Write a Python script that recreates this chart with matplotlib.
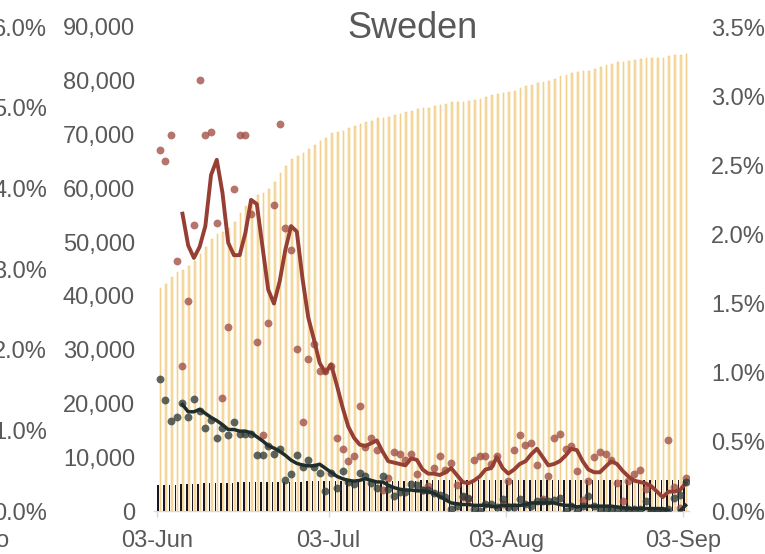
import numpy as np
import pandas as pd
import matplotlib
matplotlib.use("Agg")
import matplotlib.pyplot as plt
import matplotlib.dates as mdates
from matplotlib.ticker import FuncFormatter, FixedLocator

plt.rcParams['font.family'] = ['Liberation Sans', 'DejaVu Sans']

# ---------------- data ----------------
dates = pd.date_range('2020-06-03', '2020-09-03', freq='D')
title = 'Sweden'
tick_dates = pd.to_datetime(['2020-06-03', '2020-07-03', '2020-08-03', '2020-09-03'])

# cumulative cases (thousands) - yellow bars, middle axis
cases_cum_k = [41.4, 42.3, 43.6, 44.4, 44.8, 45.6, 46.5, 47.8, 49.1, 50.6,
               51.6, 51.9, 52.7, 53.8, 55.4, 56.8, 57.5, 58.8, 59.1, 59.8,
               61.2, 62.9, 64.1, 65.4, 66.0, 66.5, 67.3, 68.1, 68.8, 69.4,
               70.2, 70.5, 70.7, 71.2, 71.5, 72.0, 72.3, 72.6, 73.0, 73.1,
               73.3, 73.6, 73.8, 74.2, 74.4, 74.7, 74.9, 75.0, 75.3, 75.5,
               75.7, 76.0, 76.1, 76.1, 76.2, 76.5, 76.7, 77.0, 77.3, 77.6,
               77.7, 77.9, 78.1, 78.6, 79.0, 79.3, 79.6, 79.7, 79.9, 80.3,
               80.8, 81.1, 81.5, 81.7, 81.8, 81.9, 82.2, 82.6, 82.9, 83.2,
               83.4, 83.4, 83.6, 83.9, 84.0, 84.2, 84.2, 84.2, 84.2, 84.7,
               84.8, 84.8, 84.9]

# cumulative deaths (thousands) - black bars, middle axis
deaths_cum_k = [4.80, 4.84, 4.88, 4.92, 4.96, 5.00, 5.04, 5.08, 5.12, 5.15,
                5.18, 5.21, 5.24, 5.27, 5.30, 5.32, 5.34, 5.36, 5.38, 5.40,
                5.42, 5.44, 5.45, 5.46, 5.47, 5.48, 5.49, 5.50, 5.51, 5.52,
                5.53, 5.54, 5.55, 5.56, 5.57, 5.58, 5.59, 5.60, 5.61, 5.62,
                5.63, 5.64, 5.65, 5.66, 5.67, 5.67, 5.68, 5.69, 5.70, 5.70,
                5.71, 5.71, 5.72, 5.72, 5.73, 5.73, 5.73, 5.74, 5.74, 5.74,
                5.75, 5.75, 5.75, 5.76, 5.76, 5.76, 5.77, 5.77, 5.77, 5.78,
                5.78, 5.78, 5.79, 5.79, 5.79, 5.80, 5.80, 5.80, 5.80, 5.81,
                5.81, 5.81, 5.81, 5.82, 5.82, 5.82, 5.82, 5.82, 5.83, 5.83,
                5.83, 5.83, 5.84]

# daily case growth (%) - red dots, right axis
case_growth = [2.61, 2.53, 2.72, 1.81, 1.05, 1.52, 2.07, 3.12, 2.72, 2.74,
               2.08, 0.82, 1.33, 2.33, 2.72, 2.72, 2.15, 1.22, 0.55, 1.36,
               2.21, 2.80, 2.05, 1.89, 1.17, 0.64, 1.10, 1.21, 1.01, 1.01,
               1.05, 0.53, 0.45, 0.36, 0.40, 0.76, 0.46, 0.53, 0.44, 0.15,
               0.24, 0.43, 0.41, 0.37, 0.41, 0.27, 0.15, 0.18, 0.31, 0.40,
               0.30, 0.35, 0.19, 0.10, 0.09, 0.37, 0.40, 0.40, 0.34, 0.40,
               0.05, 0.22, 0.44, 0.55, 0.48, 0.49, 0.33, 0.09, 0.25, 0.53,
               0.56, 0.45, 0.47, 0.29, 0.08, 0.22, 0.39, 0.43, 0.41, 0.37,
               0.20, 0.07, 0.22, 0.27, 0.30, 0.16, 0.00, 0.00, 0.00, 0.51,
               0.17, 0.02, 0.24]

# 7-day average case growth (%) - red line, right axis
case_growth_avg = [np.nan, np.nan, np.nan, np.nan, 2.15, 1.92, 1.83, 1.91, 2.06, 2.43,
                   2.54, 2.30, 1.94, 1.85, 1.85, 2.01, 2.25, 2.22, 1.91, 1.60,
                   1.50, 1.66, 1.89, 2.06, 2.02, 1.68, 1.40, 1.24, 1.07, 1.00,
                   1.06, 0.91, 0.75, 0.61, 0.53, 0.48, 0.47, 0.49, 0.51, 0.43,
                   0.36, 0.35, 0.34, 0.33, 0.38, 0.37, 0.30, 0.27, 0.27, 0.26,
                   0.28, 0.31, 0.26, 0.21, 0.20, 0.22, 0.25, 0.30, 0.31, 0.39,
                   0.31, 0.27, 0.30, 0.34, 0.36, 0.41, 0.45, 0.39, 0.33, 0.34,
                   0.36, 0.40, 0.45, 0.44, 0.36, 0.30, 0.28, 0.28, 0.32, 0.36,
                   0.34, 0.29, 0.25, 0.22, 0.21, 0.20, 0.18, 0.14, 0.10, 0.14,
                   0.14, 0.15, 0.20]

# daily death growth (%) - dark dots, left axis
death_growth = [1.64, 1.37, 1.11, 1.17, 1.34, 1.16, 1.39, 1.24, 1.03, 1.13,
                0.91, 1.03, 0.94, 1.10, 0.95, 0.95, 0.95, 0.69, 0.69, 0.81,
                0.71, 0.77, 0.38, 0.46, 0.70, 0.55, 0.63, 0.54, 0.47, 0.25,
                0.47, 0.28, 0.50, 0.36, 0.34, 0.47, 0.44, 0.35, 0.28, 0.43,
                0.27, 0.19, 0.24, 0.24, 0.34, 0.32, 0.26, 0.26, 0.22, 0.20,
                0.17, 0.03, 0.06, 0.19, 0.16, 0.03, 0.00, 0.09, 0.09, 0.05,
                0.15, 0.05, 0.05, 0.15, 0.09, 0.06, 0.13, 0.13, 0.13, 0.14,
                0.16, 0.00, 0.06, 0.00, 0.06, 0.19, 0.06, 0.02, 0.02, 0.02,
                0.02, 0.02, 0.02, 0.02, 0.02, 0.13, 0.00, 0.00, 0.00, 0.02,
                0.16, 0.20, 0.36]

# 7-day average death growth (%) - dark line, left axis
death_growth_avg = [np.nan, np.nan, np.nan, np.nan, 1.32, 1.23, 1.23, 1.26, 1.21, 1.16,
                    1.12, 1.07, 1.01, 1.01, 0.99, 0.99, 0.97, 0.92, 0.87, 0.81,
                    0.78, 0.74, 0.69, 0.63, 0.59, 0.57, 0.56, 0.56, 0.58, 0.53,
                    0.48, 0.43, 0.40, 0.38, 0.37, 0.38, 0.40, 0.38, 0.36, 0.36,
                    0.32, 0.29, 0.27, 0.26, 0.26, 0.25, 0.25, 0.24, 0.22, 0.18,
                    0.14, 0.10, 0.09, 0.08, 0.08, 0.07, 0.07, 0.07, 0.06, 0.05,
                    0.07, 0.07, 0.07, 0.07, 0.08, 0.10, 0.10, 0.10, 0.10, 0.10,
                    0.08, 0.07, 0.07, 0.05, 0.06, 0.06, 0.06, 0.06, 0.06, 0.06,
                    0.05, 0.04, 0.03, 0.03, 0.03, 0.03, 0.03, 0.03, 0.03, 0.01,
                    np.nan, 0.00, 0.07]

# ---------------- figure ----------------
TXT = '#595959'
FS = 17
fig = plt.figure(figsize=(7.65, 5.54), dpi=100)
W, H = 765, 554
x_left, x_right = 153.6, 688.7
y_bot, y_top = 511, 27
rect = [x_left / W, (H - y_bot) / H, (x_right - x_left) / W, (y_bot - y_top) / H]

ax = fig.add_axes(rect)
xd = mdates.date2num(dates)
ax.bar(xd + 0.6, np.array(cases_cum_k) * 1000, width=0.3, color='#F6DFAE',
       edgecolor='#EFC266', linewidth=0.35, zorder=2)
ax.bar(xd + 0.2, np.array(deaths_cum_k) * 1000, width=0.26, color='#1B1524',
       linewidth=0, zorder=3)
ax.set_ylim(0, 90000)
ax.set_xlim(xd[0] - 0.6, xd[-1] + 1.0)
ax.yaxis.set_major_locator(FixedLocator(np.arange(0, 90001, 10000)))
ax.yaxis.set_major_formatter(FuncFormatter(lambda v, p: f'{v:,.0f}'))
ax.tick_params(axis='y', length=0, pad=13.4, labelsize=FS, labelcolor=TXT)
ax.xaxis.set_major_locator(FixedLocator(mdates.date2num(tick_dates)))
ax.xaxis.set_major_formatter(mdates.DateFormatter('%d-%b'))
ax.tick_params(axis='x', length=4, width=1, color='#D9D9D9', pad=10,
               labelsize=FS, labelcolor=TXT)
for s in ['top', 'left', 'right']:
    ax.spines[s].set_visible(False)
ax.spines['bottom'].set_color('#D9D9D9')
ax.spines['bottom'].set_linewidth(1)

# right axis: case growth
axr = ax.twinx()
axr.set_ylim(0, 3.5)
axr.scatter(xd + 0.45, case_growth, s=32, color='#A04E44', alpha=0.78,
            linewidths=0, zorder=3)
axr.plot(xd + 0.45, case_growth_avg, color='#963F34', lw=2.8, zorder=4,
         solid_joinstyle='round')
axr.yaxis.set_major_locator(FixedLocator(np.arange(0, 3.51, 0.5)))
axr.yaxis.set_major_formatter(FuncFormatter(lambda v, p: f'{v:.1f}%'))
axr.tick_params(axis='y', length=0, pad=16, labelsize=FS, labelcolor=TXT)
for s in axr.spines.values():
    s.set_visible(False)

# left axis: death growth
axl = ax.twinx()
axl.set_ylim(0, 6)
axl.yaxis.tick_left()
axl.scatter(xd + 0.45, death_growth, s=32, color='#2F3B3A', alpha=0.78,
            linewidths=0, zorder=3)
axl.plot(xd + 0.45, death_growth_avg, color='#1F2D2D', lw=2.5, zorder=4,
         solid_joinstyle='round')
axl.yaxis.set_major_locator(FixedLocator(np.arange(0, 6.01, 1.0)))
axl.yaxis.set_major_formatter(FuncFormatter(lambda v, p: f'{v:.1f}%'))
axl.tick_params(axis='y', length=0, pad=76.8, labelsize=FS, labelcolor=TXT)
for s in axl.spines.values():
    s.set_visible(False)

fig.text(413 / W, 1 - 28 / H, title, ha='center', va='center', fontsize=26, color=TXT)
fig.text(9 / W, 1 - 541 / H, 'o', ha='right', va='center', fontsize=FS, color=TXT)

fig.savefig('out.png', dpi=100)
